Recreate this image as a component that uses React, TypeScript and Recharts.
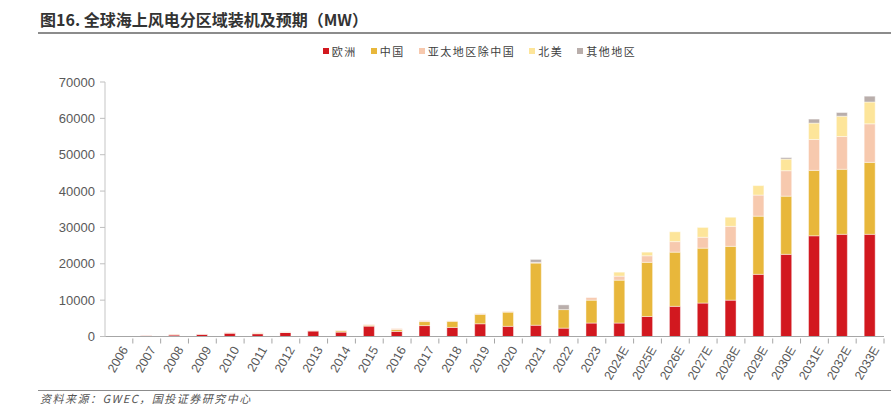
import { BarChart, Bar, XAxis, YAxis } from "recharts"

const YEARS = [
  "2006", "2007", "2008", "2009", "2010", "2011", "2012", "2013", "2014", "2015",
  "2016", "2017", "2018", "2019", "2020", "2021", "2022", "2023", "2024E", "2025E",
  "2026E", "2027E", "2028E", "2029E", "2030E", "2031E", "2032E", "2033E",
]

const EUROPE = [
  100, 250, 400, 600, 900, 750, 1100, 1500, 1200, 2850,
  1400, 3000, 2500, 3500, 2800, 3100, 2300, 3700, 3700, 5500,
  8300, 9200, 10000, 17100, 22600, 27700, 28100, 28100,
]
const CHINA = [
  0, 0, 0, 0, 0, 150, 50, 0, 350, 250,
  500, 1100, 1700, 2600, 3900, 17100, 5100, 6300, 11800, 14900,
  14900, 15100, 14800, 16000, 16000, 18000, 17900, 19800,
]
const APAC_EX_CHINA = [
  0, 100, 250, 100, 200, 100, 150, 150, 150, 200,
  300, 300, 100, 200, 200, 200, 0, 700, 1100, 1800,
  2900, 3000, 5500, 5800, 7000, 8500, 9000, 10600,
]
const NORTH_AMERICA = [
  0, 0, 0, 0, 0, 0, 0, 0, 0, 0,
  0, 0, 0, 0, 0, 0, 0, 0, 1100, 1000,
  2700, 2700, 2500, 2600, 3200, 4500, 5600, 6000,
]
const OTHER = [
  0, 0, 0, 0, 0, 0, 0, 0, 0, 0,
  0, 0, 0, 0, 0, 800, 1300, 0, 0, 0,
  0, 0, 0, 0, 400, 1100, 1000, 1600,
]

const Y_TICKS = [0, 10000, 20000, 30000, 40000, 50000, 60000, 70000]

const SERIES = [
  { key: "europe", name: "欧洲", color: "#D2181F" },
  { key: "china", name: "中国", color: "#E8B73B" },
  { key: "apac", name: "亚太地区除中国", color: "#F7C9AE" },
  { key: "na", name: "北美", color: "#FDE59A" },
  { key: "other", name: "其他地区", color: "#B9AEAB" },
]

const data = YEARS.map((year, i) => ({
  year,
  europe: EUROPE[i],
  china: CHINA[i],
  apac: APAC_EX_CHINA[i],
  na: NORTH_AMERICA[i],
  other: OTHER[i],
}))

const CJK = "'Noto Sans CJK SC', 'Liberation Sans', sans-serif"
const LATIN = "'Liberation Sans', Arial, sans-serif"

const W = 891
const H = 406
const PLOT_LEFT = 105
const PLOT_RIGHT = 884
const BAND = (PLOT_RIGHT - PLOT_LEFT) / YEARS.length

function YearTick(props: any) {
  const { x, y, payload } = props
  return (
    <g>
      <line x1={x + BAND / 2} x2={x + BAND / 2} y1={y} y2={y + 5} stroke="#a6a6a6" />
      <text
        transform={`translate(${x + 6},${y + 9}) rotate(-60)`}
        textAnchor="end"
        dominantBaseline="central"
        fontSize={12.5}
        fontFamily={LATIN}
        fill="#595959"
      >
        {payload.value}
      </text>
    </g>
  )
}

export default function App() {
  return (
    <div style={{ position: "absolute", left: 0, top: 0, width: W, height: H, background: "#fff", overflow: "hidden" }}>
      <div
        style={{
          position: "absolute",
          left: 40,
          top: 7,
          fontFamily: CJK,
          fontWeight: 700,
          fontSize: 16,
          color: "#333",
          whiteSpace: "nowrap",
        }}
      >
        图16. 全球海上风电分区域装机及预期（MW）
      </div>
      <div style={{ position: "absolute", left: 38, right: 0, top: 32, height: 1.5, background: "#8c8c8c" }} />

      <div
        style={{
          position: "absolute",
          left: 0,
          width: W,
          top: 43,
          display: "flex",
          justifyContent: "center",
          paddingLeft: 82,
          boxSizing: "border-box",
          fontFamily: CJK,
          fontSize: 11,
          color: "#404040",
          letterSpacing: 1.5,
        }}
      >
        {SERIES.map((s) => (
          <div key={s.key} style={{ display: "flex", alignItems: "center", marginRight: 14 }}>
            <span style={{ width: 6, height: 6, background: s.color, marginRight: 3, display: "inline-block" }} />
            <span>{s.name}</span>
          </div>
        ))}
      </div>

      <div style={{ position: "absolute", left: 0, top: 0 }}>
        <BarChart
          width={W}
          height={H}
          data={data}
          margin={{ top: 82, right: W - PLOT_RIGHT, bottom: 0, left: 0 }}
          barSize={11}
        >
          <XAxis
            dataKey="year"
            interval={0}
            height={H - 82 - 254.5}
            tickSize={0}
            tickLine={false}
            axisLine={{ stroke: "#a6a6a6", strokeWidth: 1.2 }}
            tick={<YearTick />}
          />
          <YAxis
            width={PLOT_LEFT}
            domain={[0, 70000]}
            ticks={Y_TICKS}
            interval={0}
            tickSize={5}
            tickMargin={5}
            axisLine={{ stroke: "#d9d9d9", strokeWidth: 1.5 }}
            tickLine={{ stroke: "#bfbfbf" }}
            tick={{ fontSize: 13, fill: "#595959", fontFamily: LATIN }}
          />
          {SERIES.map((s) => (
            <Bar
              key={s.key}
              dataKey={s.key}
              name={s.name}
              stackId="a"
              fill={s.color}
              stroke="rgba(255,255,255,0.55)"
              strokeWidth={0.8}
              isAnimationActive={false}
            />
          ))}
        </BarChart>
      </div>

      <div style={{ position: "absolute", left: 38, right: 0, top: 390, height: 1, background: "#8c8c8c" }} />
      <div
        style={{
          position: "absolute",
          left: 40,
          top: 392,
          fontFamily: CJK,
          fontStyle: "italic",
          fontSize: 11,
          lineHeight: "13px",
          letterSpacing: 1.5,
          color: "#555",
          whiteSpace: "nowrap",
        }}
      >
        资料来源：GWEC，国投证券研究中心
      </div>
    </div>
  )
}
